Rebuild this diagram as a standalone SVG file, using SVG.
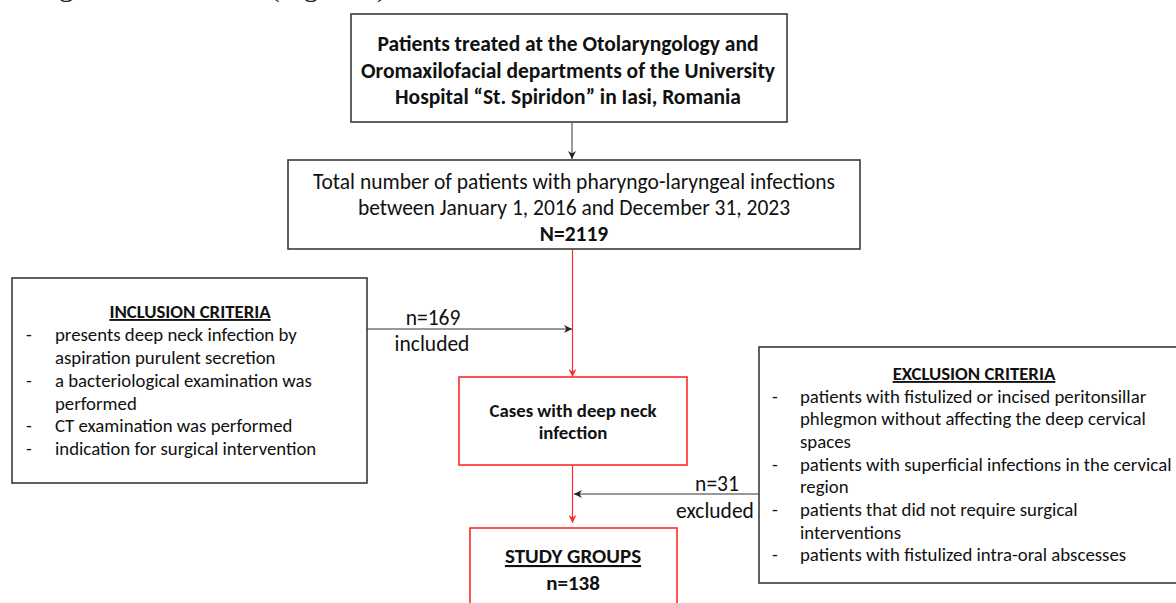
<svg xmlns="http://www.w3.org/2000/svg" width="1176" height="603" viewBox="0 0 1176 603">
<defs>
<style>
text{font-family:Carlito,Lato,"Liberation Sans",sans-serif;fill:#111}
.b{font-weight:bold}
.u{text-decoration:underline}
.c{text-anchor:middle}
.box{fill:#fff;stroke:#3a3a3a;stroke-width:1.6}
.rbox{fill:#fff;stroke:#ff2a2a;stroke-width:1.6}
.k{stroke:#333;stroke-width:1;fill:none}
.r{stroke:#ff2a2a;stroke-width:1.2;fill:none}
.t21{font-size:21.5px}
.t20{font-size:21px}
.t18{font-size:18.8px}
</style>
<marker id="ak" viewBox="0 0 10 10" refX="10" refY="5" markerWidth="8" markerHeight="8" markerUnits="userSpaceOnUse" orient="auto"><path d="M0,0 L10,5 L0,10 L3,5 Z" fill="#222"/></marker>
<marker id="ar" viewBox="0 0 10 10" refX="10" refY="5" markerWidth="8" markerHeight="8" markerUnits="userSpaceOnUse" orient="auto"><path d="M0,0 L10,5 L0,10 L3,5 Z" fill="#ff2a2a"/></marker>
</defs>
<text x="24" y="-4.5" style="font-family:'Liberation Serif',serif;font-size:29px;fill:#222">surgical intervention (Figure 1).</text>
<g id="connectors">
<line class="k" x1="572" y1="123" x2="572" y2="159" marker-end="url(#ak)"/>
<line class="r" x1="572.5" y1="249" x2="572.5" y2="377" marker-end="url(#ar)"/>
<line class="k" x1="367" y1="329" x2="572" y2="329" marker-end="url(#ak)"/>
<line class="r" x1="572.5" y1="465" x2="572.5" y2="523" marker-end="url(#ar)"/>
<line class="k" x1="759" y1="494" x2="574" y2="494" marker-end="url(#ak)"/>
<text class="t21" x="433" y="325" text-anchor="middle">n=169</text>
<text class="t21" x="432" y="351" text-anchor="middle">included</text>
<text class="t21" x="717" y="491" text-anchor="middle">n=31</text>
<text class="t21" x="715" y="518" text-anchor="middle">excluded</text>
</g>
<g id="n1">
<rect class="box" x="351" y="14" width="436" height="108"/>
<text class="b t21 c" x="568" y="51">Patients treated at the Otolaryngology and</text>
<text class="b t21 c" x="568" y="78">Oromaxilofacial departments of the University</text>
<text class="b t21 c" x="568" y="104">Hospital “St. Spiridon” in Iasi, Romania</text>
</g>
<g id="n2">
<rect class="box" x="288" y="160" width="572" height="89"/>
<text class="t21 c" x="574" y="189">Total number of patients with pharyngo-laryngeal infections</text>
<text class="t21 c" x="574" y="215">between January 1, 2016 and December 31, 2023</text>
<text class="b t21 c" x="574" y="241">N=2119</text>
</g>
<g id="inclusion">
<rect class="box" x="12" y="278" width="355" height="205"/>
<text class="b u t18 c" x="190" y="318">INCLUSION CRITERIA</text>
<text class="t18" x="26" y="341">-</text><text class="t18" x="55" y="341">presents deep neck infection by</text>
<text class="t18" x="55" y="364">aspiration purulent secretion</text>
<text class="t18" x="26" y="387">-</text><text class="t18" x="55" y="387">a bacteriological examination was</text>
<text class="t18" x="55" y="410">performed</text>
<text class="t18" x="26" y="432">-</text><text class="t18" x="55" y="432">CT examination was performed</text>
<text class="t18" x="26" y="455">-</text><text class="t18" x="55" y="455">indication for surgical intervention</text>
</g>
<g id="cases">
<rect class="rbox" x="459" y="377" width="228" height="88"/>
<text class="b t18 c" x="573" y="417">Cases with deep neck</text>
<text class="b t18 c" x="573" y="439">infection</text>
</g>
<g id="exclusion">
<rect class="box" x="759" y="347" width="430" height="236"/>
<text class="b u t18 c" x="974" y="380">EXCLUSION CRITERIA</text>
<text class="t18" x="772" y="403">-</text><text class="t18" x="800" y="403">patients with fistulized or incised peritonsillar</text>
<text class="t18" x="800" y="425">phlegmon without affecting the deep cervical</text>
<text class="t18" x="800" y="448">spaces</text>
<text class="t18" x="772" y="471">-</text><text class="t18" x="800" y="471">patients with superficial infections in the cervical</text>
<text class="t18" x="800" y="493">region</text>
<text class="t18" x="772" y="516">-</text><text class="t18" x="800" y="516">patients that did not require surgical</text>
<text class="t18" x="800" y="539">interventions</text>
<text class="t18" x="772" y="561">-</text><text class="t18" x="800" y="561">patients with fistulized intra-oral abscesses</text>
</g>
<g id="study">
<rect class="rbox" x="470" y="528" width="207" height="90"/>
<text class="b u t20 c" x="573" y="563">STUDY GROUPS</text>
<text class="b t20 c" x="573" y="590">n=138</text>
</g>
</svg>
